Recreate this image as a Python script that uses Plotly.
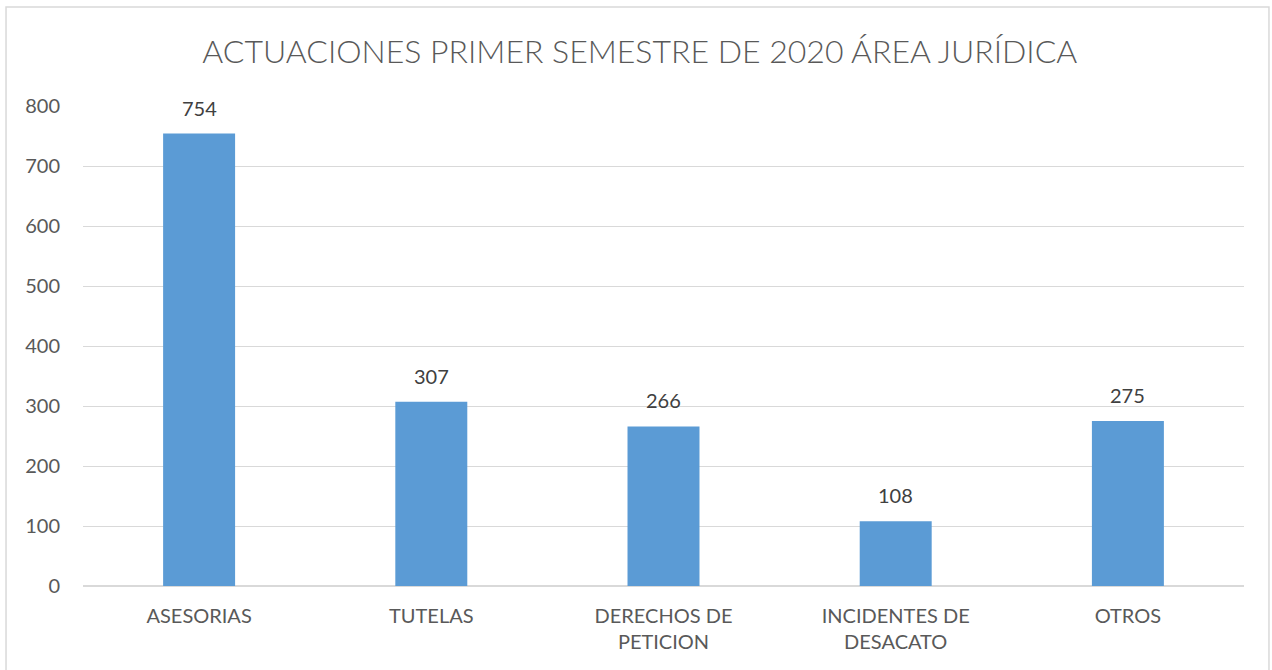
import plotly.graph_objects as go

categories = ["ASESORIAS", "TUTELAS", "DERECHOS DE<br>PETICION", "INCIDENTES DE<br>DESACATO", "OTROS"]
values = [754, 307, 266, 108, 275]
y_ticks = [0, 100, 200, 300, 400, 500, 600, 700, 800]

FONT = "Lato, 'Open Sans', sans-serif"

fig = go.Figure(
    go.Bar(
        x=categories,
        y=values,
        width=0.31,
        marker=dict(color="#5B9BD5", line=dict(width=0)),
        hoverinfo="x+y",
    )
)

# value labels above each bar
for cat, val in zip(categories, values):
    fig.add_annotation(
        x=cat,
        y=val,
        text=str(val),
        showarrow=False,
        yanchor="bottom",
        yshift=12,
        font=dict(size=20, color="#404040", family=FONT),
    )

fig.update_layout(
    width=1272,
    height=670,
    margin=dict(l=83, r=28, t=106, b=84),
    paper_bgcolor="white",
    plot_bgcolor="white",
    showlegend=False,
    title=dict(
        text="ACTUACIONES PRIMER SEMESTRE DE 2020 ÁREA JURÍDICA",
        x=0.503,
        xanchor="center",
        y=0.922,
        yanchor="middle",
        font=dict(size=32, color="#595959", family=FONT, weight=300),
    ),
    xaxis=dict(
        showgrid=False,
        showline=False,
        ticks="",
        ticklabelstandoff=16,
        tickfont=dict(size=20, color="#595959", family=FONT),
    ),
    yaxis=dict(
        range=[0, 800],
        tickvals=y_ticks,
        showgrid=True,
        gridcolor="#D9D9D9",
        gridwidth=1,
        zeroline=True,
        zerolinecolor="#D9D9D9",
        zerolinewidth=2,
        showline=False,
        ticks="",
        ticklabelstandoff=22,
        tickfont=dict(size=20, color="#595959", family=FONT),
    ),
    shapes=[
        dict(
            type="rect",
            xref="paper",
            yref="paper",
            x0=-0.0663,
            x1=1.0215,
            y0=-0.3,
            y1=1.206,
            line=dict(color="#D9D9D9", width=1.5),
            fillcolor="rgba(0,0,0,0)",
            layer="below",
        )
    ],
)

fig.write_html("out.html")
